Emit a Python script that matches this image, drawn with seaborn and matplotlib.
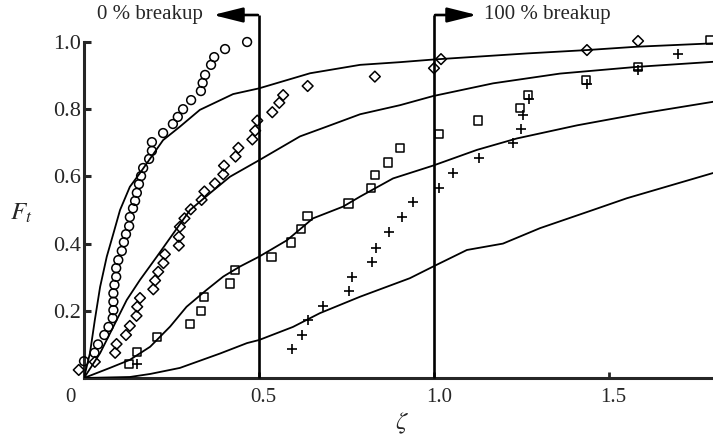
import numpy as np
import pandas as pd
import matplotlib
matplotlib.use("Agg")
import matplotlib.pyplot as plt
import matplotlib.transforms as mtrans
import seaborn as sns

# ---------------- data ----------------
curve1_x = [0, 0.017, 0.031, 0.046, 0.065, 0.084, 0.103, 0.131, 0.160, 0.193, 0.226, 0.274, 0.331, 0.426, 0.500, 0.646, 0.789, 0.903, 1.000, 1.266, 1.437, 1.580, 1.797]
curve1_y = [0, 0.074, 0.173, 0.271, 0.361, 0.430, 0.500, 0.569, 0.610, 0.659, 0.708, 0.748, 0.798, 0.845, 0.862, 0.907, 0.932, 0.940, 0.948, 0.966, 0.976, 0.986, 0.996]

curve2_x = [0, 0.046, 0.084, 0.122, 0.160, 0.208, 0.255, 0.303, 0.360, 0.417, 0.500, 0.617, 0.693, 0.789, 0.903, 0.997, 1.169, 1.360, 1.580, 1.797]
curve2_y = [0, 0.074, 0.153, 0.232, 0.292, 0.361, 0.430, 0.500, 0.550, 0.599, 0.648, 0.719, 0.748, 0.785, 0.812, 0.839, 0.877, 0.906, 0.926, 0.941]

curve3_x = [0, 0.074, 0.131, 0.189, 0.246, 0.293, 0.350, 0.398, 0.446, 0.500, 0.580, 0.654, 0.740, 0.789, 0.883, 0.997, 1.123, 1.237, 1.409, 1.597, 1.797]
curve3_y = [0, 0.030, 0.054, 0.093, 0.153, 0.212, 0.262, 0.302, 0.332, 0.361, 0.410, 0.475, 0.510, 0.540, 0.594, 0.632, 0.679, 0.713, 0.752, 0.788, 0.822]

curve4_x = [0, 0.131, 0.189, 0.274, 0.389, 0.466, 0.500, 0.597, 0.674, 0.789, 0.931, 1.000, 1.094, 1.197, 1.303, 1.454, 1.551, 1.797]
curve4_y = [0, 0.003, 0.012, 0.030, 0.073, 0.104, 0.113, 0.152, 0.193, 0.242, 0.297, 0.333, 0.381, 0.400, 0.446, 0.500, 0.535, 0.610]

circles_x = [0.0, 0.030, 0.040, 0.058, 0.070, 0.082, 0.084, 0.084, 0.084, 0.087, 0.092, 0.092, 0.098, 0.108, 0.114, 0.120, 0.129, 0.131, 0.140, 0.146, 0.151, 0.157, 0.163, 0.169, 0.186, 0.194, 0.194, 0.226, 0.254, 0.268, 0.283, 0.306, 0.334, 0.339, 0.346, 0.363, 0.372, 0.403, 0.466]
circles_y = [0.050, 0.075, 0.100, 0.128, 0.152, 0.178, 0.202, 0.227, 0.252, 0.277, 0.301, 0.327, 0.351, 0.378, 0.404, 0.428, 0.452, 0.479, 0.505, 0.527, 0.551, 0.577, 0.601, 0.625, 0.652, 0.676, 0.702, 0.729, 0.756, 0.777, 0.800, 0.827, 0.854, 0.878, 0.902, 0.932, 0.955, 0.979, 1.000]

diamonds_x = [-0.015, 0.031, 0.089, 0.093, 0.120, 0.131, 0.150, 0.152, 0.160, 0.198, 0.203, 0.212, 0.227, 0.231, 0.271, 0.271, 0.274, 0.287, 0.305, 0.336, 0.344, 0.374, 0.398, 0.400, 0.433, 0.441, 0.481, 0.489, 0.495, 0.538, 0.558, 0.569, 0.639, 0.831, 1.000, 1.020, 1.437, 1.583]
diamonds_y = [0.024, 0.048, 0.075, 0.101, 0.128, 0.155, 0.185, 0.212, 0.238, 0.264, 0.290, 0.316, 0.342, 0.368, 0.394, 0.420, 0.450, 0.475, 0.502, 0.530, 0.555, 0.579, 0.606, 0.632, 0.659, 0.685, 0.710, 0.736, 0.766, 0.791, 0.819, 0.842, 0.869, 0.897, 0.922, 0.949, 0.976, 1.003]

squares_x = [0.129, 0.151, 0.209, 0.303, 0.334, 0.343, 0.417, 0.432, 0.536, 0.591, 0.620, 0.638, 0.755, 0.820, 0.831, 0.869, 0.903, 1.014, 1.126, 1.246, 1.269, 1.434, 1.583, 1.789]
squares_y = [0.042, 0.078, 0.122, 0.161, 0.200, 0.241, 0.282, 0.321, 0.360, 0.404, 0.443, 0.482, 0.520, 0.565, 0.604, 0.642, 0.684, 0.726, 0.766, 0.803, 0.842, 0.887, 0.926, 1.006]

plus_x = [0.151, 0.595, 0.623, 0.640, 0.683, 0.758, 0.766, 0.822, 0.834, 0.872, 0.908, 0.940, 1.015, 1.055, 1.128, 1.226, 1.249, 1.255, 1.272, 1.437, 1.583, 1.697]
plus_y = [0.042, 0.086, 0.128, 0.173, 0.214, 0.260, 0.301, 0.346, 0.387, 0.435, 0.480, 0.524, 0.566, 0.610, 0.655, 0.699, 0.741, 0.783, 0.830, 0.875, 0.917, 0.964]

x_ticks = [0, 0.5, 1.0, 1.5]
x_tick_labels = ["0", "0.5", "1.0", "1.5"]
y_ticks = [0.2, 0.4, 0.6, 0.8, 1.0]
y_tick_labels = ["0.2", "0.4", "0.6", "0.8", "1.0"]
breakup_limits = [0.5, 1.0]
breakup_labels = ["0 % breakup", "100 % breakup"]

# ---------------- style ----------------
sns.set_style("ticks")
plt.rcParams["font.family"] = ["Liberation Serif", "DejaVu Serif"]
plt.rcParams["mathtext.fontset"] = "stix"

fig = plt.figure(figsize=(7.13, 4.43), dpi=100)
W, H = 713, 443
x0_px, y0_px = 84, 378
px_per_x, px_per_y = 350.0, 336.0
ax = fig.add_axes([x0_px / W, (H - y0_px) / H, (W - x0_px) / W, y0_px / H])
ax.set_xlim(0, (W - x0_px) / px_per_x)
ax.set_ylim(0, y0_px / px_per_y)

# model curves
for cx, cy in [(curve1_x, curve1_y), (curve2_x, curve2_y), (curve3_x, curve3_y), (curve4_x, curve4_y)]:
    df = pd.DataFrame({"x": cx, "y": cy})
    sns.lineplot(data=df, x="x", y="y", ax=ax, color="black", lw=1.3,
                 sort=False, estimator=None, zorder=3)

# measured points
sns.scatterplot(x=circles_x, y=circles_y, ax=ax, marker="o", s=40,
                facecolors="none", edgecolor="black", linewidth=1.1, clip_on=False, zorder=4)
sns.scatterplot(x=diamonds_x, y=diamonds_y, ax=ax, marker="D", s=30,
                facecolors="none", edgecolor="black", linewidth=1.1, clip_on=False, zorder=4)
sns.scatterplot(x=squares_x, y=squares_y, ax=ax, marker="s", s=38,
                facecolors="none", edgecolor="black", linewidth=1.1, clip_on=False, zorder=4)
sns.scatterplot(x=plus_x, y=plus_y, ax=ax, marker="+", s=55,
                color="black", linewidth=1.2, clip_on=False, zorder=4)

# breakup limits with arrows
top_y = (y0_px - 15) / px_per_y
arrow_tips = [(213 - x0_px) / px_per_x, (477 - x0_px) / px_per_x]
for xv, tip, lab, ha in zip(breakup_limits, arrow_tips, breakup_labels, ["right", "left"]):
    ax.plot([xv, xv], [0, top_y], color="black", lw=1.9, solid_capstyle="butt", clip_on=False, zorder=5)
    ax.annotate("", xy=(tip, top_y), xytext=(xv - (0.003 if ha == "right" else -0.003), top_y),
                arrowprops=dict(arrowstyle="-|>,head_length=1.0,head_width=0.25",
                                mutation_scale=18, lw=1.9, color="black",
                                shrinkA=0, shrinkB=0), annotation_clip=False)
    off = -0.03 if ha == "right" else 0.02
    ax.text(tip + off, top_y, lab, ha=ha, va="center", fontsize=15)

# axes / spines
sns.despine(ax=ax, top=True, right=True)
ax.spines["left"].set_bounds(0, 1.0)
ax.spines["left"].set_linewidth(2.2)
ax.spines["bottom"].set_linewidth(2.2)
ax.set_xticks(x_ticks)
ax.set_xticklabels(x_tick_labels, fontsize=15)
ax.set_yticks(y_ticks)
ax.set_yticklabels(y_tick_labels, fontsize=16)
ax.tick_params(axis="y", direction="in", length=5, width=2.2, pad=2)
ax.tick_params(axis="x", direction="in", length=4, width=2.0, pad=7)
for lab, dx in zip(ax.get_xticklabels(), [-14, 4, 5, 4]):
    lab.set_transform(lab.get_transform() + mtrans.ScaledTranslation(dx / 100, 0, fig.dpi_scale_trans))

ax.set_xlabel("")
ax.set_ylabel("")
fig.text(402 / W, 1 - 423 / H, r"$\zeta$", ha="center", va="center", fontsize=18)
fig.text(21 / W, 1 - 213 / H, r"$F_t$", ha="center", va="center", fontsize=18)

fig.savefig("out.png", dpi=100)
